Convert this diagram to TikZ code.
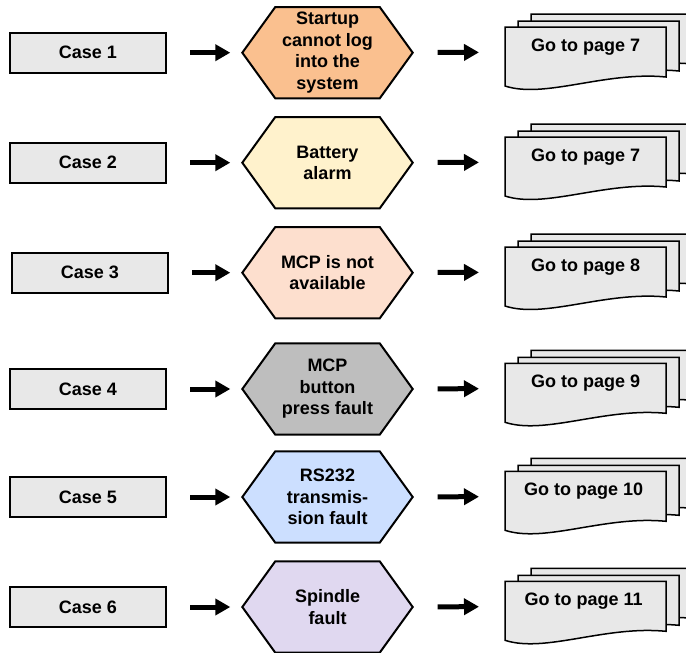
\documentclass[tikz,border=0pt]{standalone}
\usepackage{fontspec}
\setmainfont{Liberation Sans}
\usetikzlibrary{calc,arrows.meta,positioning,backgrounds}

\definecolor{casegray}{HTML}{E8E8E8}
\definecolor{faultA}{HTML}{FAC08F}
\definecolor{faultB}{HTML}{FFF2CC}
\definecolor{faultC}{HTML}{FDDFCE}
\definecolor{faultD}{HTML}{BEBEBE}
\definecolor{faultE}{HTML}{CCDFFF}
\definecolor{faultF}{HTML}{E0D8F0}

\tikzset{
  casebox/.style={draw, line width=2pt, fill=casegray, minimum width=156, minimum height=40, inner sep=0},
  fault/.style={minimum width=104, minimum height=91, inner sep=0, align=center},
  pagebox/.style={minimum width=161, minimum height=50, inner sep=0, anchor=north west},
  arr/.style={line width=5pt, -{Triangle[length=15pt,width=16pt]}},
  sheet/.pic={
    \draw[line width=1.5pt, fill=casegray] (0,0) -- (161,0) -- (161,50)
      .. controls (100,44) and (40,72) .. (0,59) -- cycle;
  }
}

\begin{document}
\begin{tikzpicture}[x=1pt, y=-1pt, font=\bfseries\fontsize{18}{21.5}\selectfont]
    \useasboundingbox (0,0) rectangle (686,653);

    % Cases
    \node[casebox] (c1) at (88,52.7) {Case 1};
    \node[casebox] (c2) at (88,162.7) {Case 2};
    \node[casebox] (c3) at (90,272.7) {Case 3};
    \node[casebox] (c4) at (88,389) {Case 4};
    \node[casebox] (c5) at (88,497) {Case 5};
    \node[casebox] (c6) at (88,607) {Case 6};

    % Faults
    \node[fault] (h1) at (327.5,52.7) {Startup\\cannot log\\into the\\system};
    \node[fault] (h2) at (327.5,162.7) {Battery\\alarm};
    \node[fault] (h3) at (327.5,272.7) {MCP is not\\available};
    \node[fault] (h4) at (327.5,389) {MCP\\button\\press fault};
    \node[fault] (h5) at (327.5,497) {RS232\\transmis-\\sion fault};
    \node[fault] (h6) at (327.5,607) {Spindle\\fault};
    \begin{scope}[on background layer]
        \foreach \i/\c in {1/faultA, 2/faultB, 3/faultC, 4/faultD, 5/faultE, 6/faultF}
            \draw[line width=2pt, fill=\c] (h\i.north west) -- (h\i.north east) -- ($(h\i.east)+(33,0)$)
                -- (h\i.south east) -- (h\i.south west) -- ($(h\i.west)+(-33,0)$) -- cycle;
    \end{scope}

    % Pages
    \node[pagebox] (p1) at (505,27) {};
    \node[pagebox] (p2) at (505,137) {};
    \node[pagebox] (p3) at (505,247) {};
    \node[pagebox] (p4) at (505,363.3) {};
    \node[pagebox] (p5) at (505,471.3) {};
    \node[pagebox] (p6) at (505,581.3) {};
    \foreach \i in {1,...,6} {
        \pic at ($(p\i.north west)+(26,-13)$) {sheet};
        \pic at ($(p\i.north west)+(13,-6)$) {sheet};
        \pic at (p\i.north west) {sheet};
    }
    \node (t1) at ($(p1.north)+(0,20)$) {Go to page 7};
    \node (t2) at ($(p2.north)+(0,20)$) {Go to page 7};
    \node (t3) at ($(p3.north)+(0,20)$) {Go to page 8};
    \node (t4) at ($(p4.north)+(0,20)$) {Go to page 9};
    \node (t5) at ($(p5.north)+(-2,20)$) {Go to page 10};
    \node (t6) at ($(p6.north)+(-2,20)$) {Go to page 11};

    % Arrows
    \foreach \i in {1,...,6} {
        \draw[arr, shorten <=23pt, shorten >=45pt] (c\i) -- (h\i);
        \draw[arr, shorten <=58pt, shorten >=26pt] (h\i) -- (p\i);
    }
\end{tikzpicture}
\end{document}
